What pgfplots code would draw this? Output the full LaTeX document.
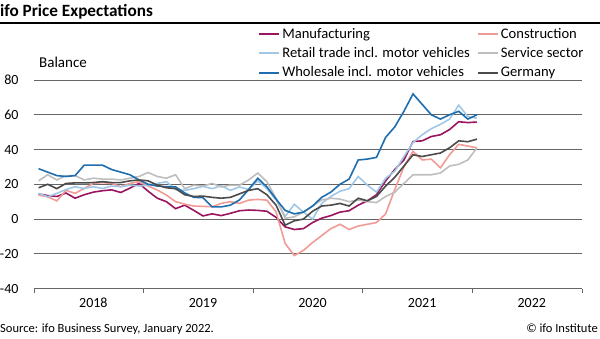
\documentclass[border=0pt]{standalone}
\usepackage{fontspec}
\setmainfont{Carlito}
\usepackage{pgfplots}
\pgfplotsset{compat=1.18}
\usepackage{pgfplotstable}
\definecolor{cman}{RGB}{155,20,95}
\definecolor{ccon}{RGB}{240,155,150}
\definecolor{cret}{RGB}{160,200,230}
\definecolor{cser}{RGB}{190,190,190}
\definecolor{cwho}{RGB}{30,110,175}
\definecolor{cger}{RGB}{75,75,75}
\pgfplotstableread{
x man con ret ser who ger
0.5 14.5 13.8 14.8 22 29 18
1.5 13.5 12.8 12.8 25.5 27 20
2.5 13 10.5 14.8 22.5 25 17.5
3.5 15 16.5 17 25 24.5 20.5
4.5 12 14.8 18.6 25 25 20.8
5.5 14 17.6 17.6 22.5 31 20.8
6.5 15.5 20.5 18.6 23.5 31 21
7.5 16.3 21 17.6 23 31 21.5
8.5 16.8 20.5 19 23 28.5 21
9.5 15.3 18.6 18.6 22.5 27 21
10.5 17.8 20.5 19.5 23.5 25.5 22
11.5 20.5 21.5 19 24.5 22.5 22.5
12.5 16 19 19.5 26.8 20 22
13.5 12 16.7 20.5 24.5 19 19.5
14.5 10 13.8 21.5 23.5 18.6 18
15.5 6 10 17 25.5 18.5 17.5
16.5 8 8.6 16.5 17.5 15 14
17.5 5 7.5 17.5 19.5 12.5 13
18.5 1.8 7.3 18.8 19 12.3 13.2
19.5 3 7.1 17.5 20.5 7 12.5
20.5 2 9 19.2 18.5 7 12
21.5 3.3 10 16.5 19.5 8 12.5
22.5 4.8 9 18.5 19.5 11 14.5
23.5 5.2 10.9 17 22.5 17 16.5
24.5 5 11.3 22 26.5 23.5 17.5
25.5 4.5 10.9 17.5 21.5 18.5 14
26.5 1 4.2 11 11.9 11.5 8
27.5 -4.5 -14 1.5 0.4 5 -3.5
28.5 -6 -21 8.5 1.3 3 -1
29.5 -5.5 -18 4 4 4 0
30.5 -2 -13.5 0 7.5 7.5 4.5
31.5 0.5 -9.5 9 11 12.5 7.5
32.5 2 -5.5 13 12 15.5 8
33.5 4 -3 16 11.5 20 9
34.5 4.8 -6 17.5 10 23 7.5
35.5 8 -4 24.5 11 34 12
36.5 10.5 -3 19.5 10 34.5 10.5
37.5 14 -2 15.5 9.5 35.5 13
38.5 22 3 23.5 13 47 19
39.5 28.5 17 27.5 15.5 53 24
40.5 34 30 36 20.5 62 30.5
41.5 44.6 39 44 25.5 72 37
42.5 45 34 48.5 25.5 66 36
43.5 47.5 34.5 52 25.5 60 37
44.5 48.5 29.5 54.5 26.5 57.5 38
45.5 51.5 37 57.5 30.5 60 41
46.5 56 43 65.5 31.5 62 45
47.5 55.5 42 59 34 57.5 44.5
48.5 55.8 41 58 41 60 46
}\data
\begin{document}
\begin{tikzpicture}[x=1pt,y=1pt]
\useasboundingbox (0,0) rectangle (600,338);
\node[anchor=base west, inner sep=0, font=\bfseries\fontsize{17.2}{20}\selectfont] at (0,321.3) {ifo Price Expectations};
\draw[line width=1.3pt] (0,315) -- (600,315);
\node[anchor=base west, inner sep=0, font=\fontsize{15}{17}\selectfont] at (39,270) {Balance};
\begin{axis}[
 at={(34pt,49.4pt)}, anchor=south west,
 scale only axis, width=548pt, height=208.6pt,
 xmin=0, xmax=60, ymin=-40, ymax=80,
 axis x line*=bottom, axis y line*=left,
 y axis line style={draw=none},
 x axis line style={black!60, line width=0.8pt},
 ytick={-40,-20,...,80},
 ymajorgrids, grid style={black!60, line width=0.8pt},
 ytick style={draw=none},
 xtick={0,12,...,60}, xticklabels={},
 xtick style={black!60, line width=0.8pt},
 tick align=outside, major tick length=4pt,
 extra x ticks={6.5,18.5,30.5,42.5,54.5},
 extra x tick labels={2018,2019,2020,2021,2022},
 extra x tick style={major tick length=0pt, xticklabel style={yshift=-6pt}},
 yticklabel style={xshift=-8pt},
 /pgf/number format/assume math mode=true,
 ticklabel style={font=\fontsize{14}{16}\selectfont},
 no markers,
 every axis plot/.append style={line width=1.6pt},
 legend columns=2,
 legend cell align=left,
 legend image code/.code={\draw[#1] (0pt,0pt) -- (20pt,0pt);},
 legend image post style={line width=2pt},
 legend style={at={(0.409,1.26)}, anchor=north west, draw=none, fill=none,
   font=\fontsize{14.6}{17}\selectfont, inner sep=0pt, row sep=3.8pt,
   /tikz/every even column/.append style={column sep=5pt}},
]
\addplot[cman] table[x=x,y=man] {\data};
\addlegendentry{Manufacturing}
\addplot[ccon] table[x=x,y=con] {\data};
\addlegendentry{Construction}
\addplot[cret] table[x=x,y=ret] {\data};
\addlegendentry{Retail trade incl. motor vehicles}
\addplot[cser] table[x=x,y=ser] {\data};
\addlegendentry{Service sector}
\addplot[cwho] table[x=x,y=who] {\data};
\addlegendentry{Wholesale incl. motor vehicles}
\addplot[cger] table[x=x,y=ger] {\data};
\addlegendentry{Germany}
\end{axis}
\node[anchor=base west, inner sep=0, font=\fontsize{12.5}{15}\selectfont] at (0,6) {Source: ifo Business Survey, January 2022.};
\node[anchor=base east, inner sep=0, font=\fontsize{12.5}{15}\selectfont] at (598,6) {© ifo Institute};
\end{tikzpicture}
\end{document}
